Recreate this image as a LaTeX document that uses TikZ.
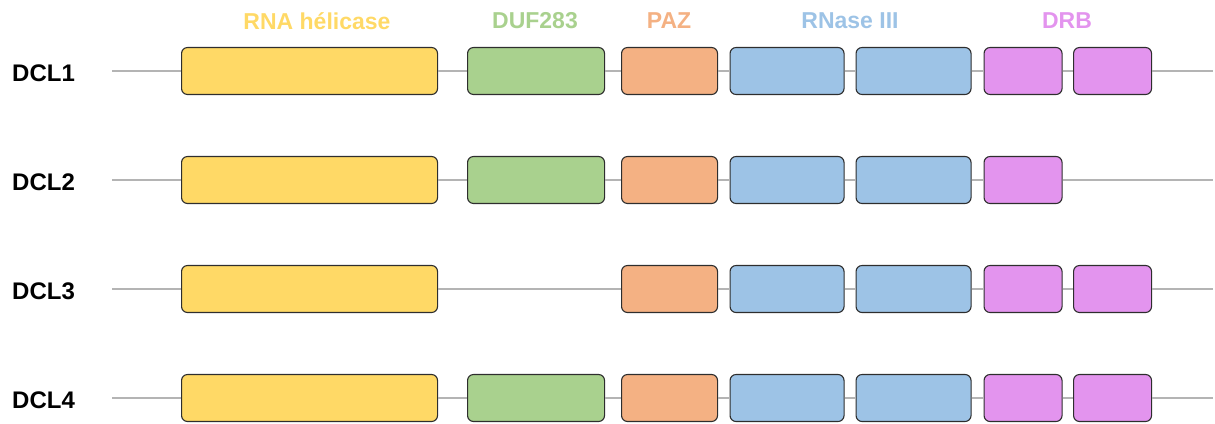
\documentclass[tikz,border=0pt]{standalone}
\usepackage{fontspec}
\setmainfont{Liberation Sans}
\definecolor{cHel}{HTML}{FFD966}
\definecolor{cDuf}{HTML}{A9D18E}
\definecolor{cPaz}{HTML}{F4B183}
\definecolor{cRn}{HTML}{9DC3E6}
\definecolor{cDrb}{HTML}{E394EE}
\definecolor{cLine}{HTML}{B4B4B4}
\definecolor{cEdge}{HTML}{2E2E2E}
\tikzset{
  dombox/.style={draw=cEdge, fill=#1, line width=1.1pt, rounded corners=6pt,
    minimum height=47pt, inner sep=0pt, anchor=west},
  backbone/.style={draw=cLine, line width=1.3pt},
  rowlabel/.style={font=\fontsize{24pt}{28pt}\selectfont\bfseries, anchor=west, inner sep=0pt},
  header/.style={font=\fontsize{23pt}{27pt}\selectfont\bfseries, inner sep=0pt}
}
\begin{document}
\begin{tikzpicture}[x=1pt,y=-1pt]
\useasboundingbox (0,0) rectangle (1215,423);
% headers
\node[header, text=cHel] (hHel) at (317,21) {RNA hélicase};
\node[header, text=cDuf] (hDuf) at (535,21) {DUF283};
\node[header, text=cPaz] (hPaz) at (669,21) {PAZ};
\node[header, text=cRn]  (hRn)  at (850,21) {RNase III};
\node[header, text=cDrb] (hDrb) at (1067,21) {DRB};
% rows
\foreach \r/\y/\duf/\drbb in {1/71/1/1, 2/180/1/0, 3/289/0/1, 4/398/1/1}{
  \node[rowlabel] (lab\r) at (12,\y+2) {DCL\r};
  \coordinate (s\r) at (112,\y);
  \coordinate (e\r) at (1213,\y);
  \node[dombox=cHel, minimum width=256pt] (hel\r) at (181,\y) {};
  \node[dombox=cPaz, minimum width=96pt]  (paz\r) at (621,\y) {};
  \node[dombox=cRn,  minimum width=114pt] (rna\r) at (729.5,\y) {};
  \node[dombox=cRn,  minimum width=115pt] (rnb\r) at (855.5,\y) {};
  \node[dombox=cDrb, minimum width=78pt]  (dra\r) at (983.5,\y) {};
  \draw[backbone] (s\r) -- (hel\r.west);
  \draw[backbone] (paz\r.east) -- (rna\r.west);
  \draw[backbone] (rna\r.east) -- (rnb\r.west);
  \draw[backbone] (rnb\r.east) -- (dra\r.west);
  \ifnum\duf=1
    \node[dombox=cDuf, minimum width=137pt] (duf\r) at (467,\y) {};
    \draw[backbone] (hel\r.east) -- (duf\r.west);
    \draw[backbone] (duf\r.east) -- (paz\r.west);
  \else
    \draw[backbone] (hel\r.east) -- (paz\r.west);
  \fi
  \ifnum\drbb=1
    \node[dombox=cDrb, minimum width=78pt] (drb\r) at (1073,\y) {};
    \draw[backbone] (dra\r.east) -- (drb\r.west);
    \draw[backbone] (drb\r.east) -- (e\r);
  \else
    \draw[backbone] (dra\r.east) -- (e\r);
  \fi
}
\end{tikzpicture}
\end{document}
